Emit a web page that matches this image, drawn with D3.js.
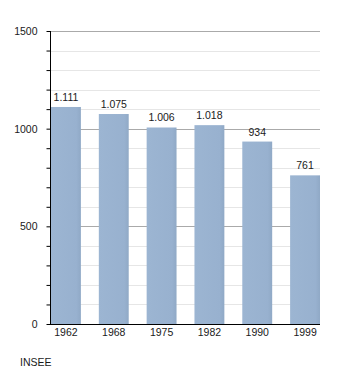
<!DOCTYPE html>
<html><head><meta charset="utf-8">
<script src="https://cdn.jsdelivr.net/npm/d3@7"></script>
<style>body{margin:0;background:#fff;}svg{display:block;font-family:"Liberation Sans",Arial,sans-serif;}</style>
</head><body>
<svg id="c" width="350" height="373"></svg>
<script>
const years = ["1962","1968","1975","1982","1990","1999"];
const population = [1111,1075,1006,1018,934,761];
const yTicks = [0,500,1000,1500];
const source = "INSEE";

(function(){
const svg = d3.select("#c");
const fs = 10.5;
const mLeft = 50, mRight = 320, mTop = 31, mBottom = 324;
const x = d3.scaleBand().domain(years).range([mLeft+1, mRight]).paddingInner(0.375).paddingOuter(0);
const y = d3.scaleLinear().domain([0,1500]).range([mBottom, mTop]);

const defs = svg.append("defs");
const g = defs.append("linearGradient").attr("id","bg").attr("x1","0").attr("x2","1");
g.append("stop").attr("offset","0").attr("stop-color","#9cb5d2");
g.append("stop").attr("offset","0.85").attr("stop-color","#98b1cf");
g.append("stop").attr("offset","1").attr("stop-color","#90a9c6");

const minor = d3.range(100,1500,100).filter(v=>v%500!==0);
svg.append("g").selectAll("line").data(minor).join("line")
  .attr("x1",mLeft).attr("x2",mRight).attr("y1",d=>Math.round(y(d))+0.5).attr("y2",d=>Math.round(y(d))+0.5)
  .attr("stroke","#e6e6e6");
svg.append("g").selectAll("line").data(yTicks.filter(v=>v>0)).join("line")
  .attr("x1",mLeft).attr("x2",mRight).attr("y1",d=>Math.round(y(d))+0.5).attr("y2",d=>Math.round(y(d))+0.5)
  .attr("stroke","#aaaaaa");

svg.append("g").selectAll("rect").data(population).join("rect")
  .attr("x",(d,i)=>x(years[i])).attr("width",x.bandwidth())
  .attr("y",d=>y(d)).attr("height",d=>mBottom-y(d)).attr("fill","url(#bg)");

const fmt = v => v>=1000 ? Math.floor(v/1000)+"."+String(v%1000).padStart(3,"0") : String(v);
svg.append("g").selectAll("text").data(population).join("text")
  .attr("x",(d,i)=>x(years[i])+x.bandwidth()/2).attr("y",d=>y(d)-6)
  .attr("text-anchor","middle").attr("font-size",fs).attr("fill","#1a1a1a").text(fmt);

const ya = svg.append("g").attr("transform",`translate(${mLeft+0.5},0)`)
  .call(d3.axisLeft(y).tickValues(d3.range(0,1501,100)).tickSize(4).tickFormat(d=>yTicks.includes(d)?d:""));
ya.select(".domain").attr("stroke","#000").attr("d",`M0,${mTop}V${mBottom}`);
ya.selectAll(".tick line").attr("stroke","#000");
ya.selectAll(".tick text").attr("font-size",fs).attr("fill","#1a1a1a").attr("x",-13).attr("font-family","Liberation Sans, Arial, sans-serif");

const xa = svg.append("g").attr("transform",`translate(0,${mBottom+0.5})`)
  .call(d3.axisBottom(x).tickSize(0).tickPadding(4));
xa.select(".domain").attr("stroke","#000").attr("d",`M${mLeft},0H${mRight}`);
xa.selectAll(".tick text").attr("font-size",fs).attr("fill","#1a1a1a").attr("font-family","Liberation Sans, Arial, sans-serif");

svg.append("text").attr("x",20).attr("y",366).attr("font-size",fs).attr("fill","#1a1a1a").text(source);
})();
</script>
</body></html>
